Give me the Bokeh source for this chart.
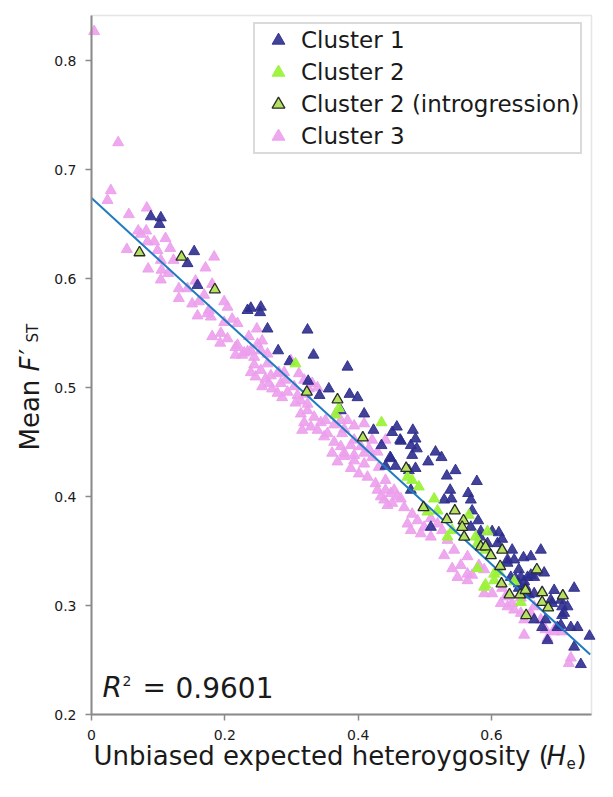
import math
from bokeh.plotting import figure
from bokeh.models import (Label, Legend, LegendItem, FixedTicker, Range1d, LinearAxis,
                          BoxAnnotation, CustomJSTickFormatter)
from bokeh.embed import file_html
from bokeh.resources import INLINE

# ---------------- data ----------------
x_ticks = [0, 0.2, 0.4, 0.6]
x_tick_labels = ["0", "0.2", "0.4", "0.6"]
y_ticks = [0.2, 0.3, 0.4, 0.5, 0.6, 0.7, 0.8]
y_tick_labels = ["0.2", "0.3", "0.4", "0.5", "0.6", "0.7", "0.8"]
x_lim = (0.0, 0.75)
y_lim = (0.2, 0.8416)

fit_x = [0.0, 0.748]
fit_y = [0.674, 0.255]
r2_value = "0.9601"

c1_x = [0.089, 0.104, 0.102, 0.154, 0.144, 0.159, 0.234, 0.239, 0.254, 0.253, 0.264, 0.324,
        0.280, 0.333, 0.297, 0.384, 0.325, 0.356, 0.342, 0.387, 0.399, 0.374, 0.409, 0.423,
        0.451, 0.458, 0.435, 0.448, 0.463, 0.482, 0.464, 0.479, 0.486, 0.488, 0.481, 0.516,
        0.525, 0.505, 0.449, 0.441, 0.456, 0.476, 0.486, 0.479, 0.509, 0.533, 0.546, 0.578,
        0.565, 0.569, 0.538, 0.529, 0.540, 0.571, 0.580, 0.583, 0.601, 0.611, 0.616, 0.631,
        0.648, 0.634, 0.641, 0.644, 0.654, 0.624, 0.629, 0.641, 0.651, 0.656, 0.569, 0.584,
        0.609, 0.594, 0.624, 0.659, 0.674, 0.664, 0.679, 0.694, 0.714, 0.724, 0.709, 0.704,
        0.719, 0.729, 0.747, 0.724, 0.684, 0.664, 0.666, 0.659, 0.636, 0.649, 0.641, 0.664,
        0.689, 0.691, 0.704, 0.706, 0.706, 0.699, 0.681, 0.676, 0.734]
c1_y = [0.657, 0.656, 0.650, 0.625, 0.614, 0.594, 0.571, 0.573, 0.574, 0.569, 0.554, 0.553,
        0.534, 0.530, 0.524, 0.519, 0.506, 0.499, 0.493, 0.494, 0.491, 0.479, 0.476, 0.461,
        0.459, 0.464, 0.447, 0.436, 0.452, 0.461, 0.451, 0.447, 0.453, 0.444, 0.438, 0.441,
        0.436, 0.432, 0.435, 0.428, 0.428, 0.424, 0.426, 0.406, 0.372, 0.419, 0.424, 0.414,
        0.403, 0.397, 0.406, 0.397, 0.398, 0.387, 0.378, 0.363, 0.368, 0.367, 0.361, 0.351,
        0.344, 0.342, 0.333, 0.326, 0.326, 0.339, 0.326, 0.320, 0.317, 0.310, 0.372, 0.368,
        0.357, 0.357, 0.342, 0.345, 0.351, 0.326, 0.330, 0.314, 0.299, 0.316, 0.293, 0.282,
        0.280, 0.280, 0.272, 0.262, 0.268, 0.287, 0.331, 0.328, 0.325, 0.322, 0.316, 0.311,
        0.305, 0.302, 0.305, 0.299, 0.291, 0.280, 0.287, 0.280, 0.246]

c2_x = [0.306, 0.371, 0.366, 0.435, 0.474, 0.481, 0.491, 0.514, 0.504, 0.519, 0.566, 0.579,
        0.591, 0.594, 0.611, 0.604, 0.579, 0.589, 0.604, 0.634, 0.644, 0.541, 0.534, 0.576,
        0.591]
c2_y = [0.522, 0.481, 0.475, 0.468, 0.418, 0.415, 0.409, 0.398, 0.386, 0.387, 0.383, 0.357,
        0.351, 0.368, 0.331, 0.329, 0.334, 0.317, 0.323, 0.322, 0.303, 0.369, 0.363, 0.363,
        0.319]

c2i_x = [0.072, 0.135, 0.185, 0.323, 0.369, 0.407, 0.472, 0.498, 0.545, 0.558, 0.533, 0.556,
         0.559, 0.584, 0.591, 0.599, 0.616, 0.613, 0.615, 0.627, 0.643, 0.668, 0.676, 0.676,
         0.685, 0.707, 0.652, 0.651]
c2i_y = [0.624, 0.620, 0.590, 0.496, 0.489, 0.454, 0.426, 0.390, 0.387, 0.378, 0.379, 0.372,
         0.363, 0.354, 0.354, 0.346, 0.351, 0.336, 0.320, 0.310, 0.310, 0.333, 0.312, 0.303,
         0.298, 0.309, 0.291, 0.314]

c3_x = [0.004, 0.040, 0.029, 0.024, 0.056, 0.083, 0.070, 0.082, 0.074, 0.111, 0.094, 0.084,
        0.053, 0.118, 0.099, 0.184, 0.085, 0.104, 0.105, 0.104, 0.115, 0.123, 0.171, 0.156,
        0.181, 0.131, 0.144, 0.131, 0.151, 0.161, 0.169, 0.159, 0.174, 0.179, 0.199, 0.204,
        0.199, 0.211, 0.219, 0.181, 0.193, 0.204, 0.219, 0.216, 0.229, 0.239, 0.249, 0.256,
        0.176, 0.194, 0.236, 0.216, 0.226, 0.234, 0.244, 0.254, 0.264, 0.281, 0.299, 0.244,
        0.254, 0.264, 0.239, 0.246, 0.261, 0.269, 0.279, 0.289, 0.266, 0.256, 0.271, 0.284,
        0.291, 0.304, 0.294, 0.279, 0.286, 0.309, 0.314, 0.306, 0.321, 0.326, 0.331, 0.339,
        0.319, 0.311, 0.314, 0.324, 0.334, 0.344, 0.319, 0.329, 0.316, 0.339, 0.351, 0.354,
        0.364, 0.374, 0.384, 0.394, 0.389, 0.404, 0.374, 0.364, 0.349, 0.361, 0.379, 0.394,
        0.409, 0.421, 0.416, 0.324, 0.376, 0.379, 0.394, 0.409, 0.401, 0.414, 0.426, 0.429,
        0.441, 0.449, 0.459, 0.439, 0.469, 0.481, 0.474, 0.379, 0.409, 0.369, 0.389, 0.429,
        0.441, 0.421, 0.431, 0.441, 0.434, 0.454, 0.464, 0.451, 0.444, 0.489, 0.499, 0.479,
        0.494, 0.509, 0.509, 0.519, 0.526, 0.534, 0.529, 0.544, 0.541, 0.554, 0.564, 0.564,
        0.571, 0.581, 0.589, 0.616, 0.601, 0.621, 0.614, 0.631, 0.644, 0.589, 0.564, 0.549,
        0.624, 0.644, 0.664, 0.674, 0.649, 0.684, 0.696, 0.719, 0.634, 0.659, 0.681, 0.694,
        0.649, 0.716, 0.706, 0.366, 0.394, 0.248]
c3_y = [0.827, 0.725, 0.681, 0.672, 0.659, 0.665, 0.644, 0.644, 0.641, 0.637, 0.634, 0.634,
        0.627, 0.628, 0.626, 0.620, 0.609, 0.617, 0.608, 0.599, 0.605, 0.617, 0.610, 0.598,
        0.595, 0.591, 0.591, 0.582, 0.577, 0.579, 0.585, 0.566, 0.568, 0.565, 0.579, 0.574,
        0.560, 0.563, 0.559, 0.547, 0.541, 0.545, 0.539, 0.530, 0.532, 0.534, 0.540, 0.543,
        0.571, 0.550, 0.547, 0.537, 0.530, 0.533, 0.528, 0.534, 0.531, 0.514, 0.525, 0.521,
        0.516, 0.522, 0.514, 0.510, 0.508, 0.511, 0.513, 0.514, 0.504, 0.501, 0.499, 0.504,
        0.507, 0.501, 0.496, 0.495, 0.491, 0.493, 0.488, 0.486, 0.494, 0.499, 0.504, 0.500,
        0.507, 0.513, 0.476, 0.479, 0.473, 0.468, 0.468, 0.464, 0.461, 0.461, 0.470, 0.458,
        0.466, 0.470, 0.470, 0.452, 0.447, 0.446, 0.446, 0.450, 0.455, 0.440, 0.440, 0.438,
        0.440, 0.452, 0.444, 0.485, 0.458, 0.437, 0.433, 0.430, 0.421, 0.418, 0.412, 0.406,
        0.415, 0.403, 0.400, 0.397, 0.390, 0.384, 0.375, 0.462, 0.467, 0.432, 0.426, 0.441,
        0.452, 0.436, 0.427, 0.406, 0.400, 0.406, 0.398, 0.394, 0.392, 0.378, 0.372, 0.369,
        0.366, 0.363, 0.380, 0.375, 0.369, 0.360, 0.346, 0.351, 0.334, 0.337, 0.345, 0.329,
        0.328, 0.337, 0.333, 0.316, 0.311, 0.308, 0.302, 0.302, 0.307, 0.311, 0.323, 0.326,
        0.299, 0.293, 0.299, 0.287, 0.273, 0.270, 0.280, 0.252, 0.296, 0.293, 0.278, 0.276,
        0.287, 0.247, 0.276, 0.476, 0.465, 0.554]

legend_labels = ["Cluster 1", "Cluster 2", "Cluster 2 (introgression)", "Cluster 3"]

# ---------------- styles ----------------
C1 = "#2E2E8E"
C2 = "#9CF23A"
C2I_FILL = "#B4E25E"
C2I_LINE = "#2A2A2A"
C3 = "#EC9FEC"
FIT = "#1E7BC0"
AXIS = "#8A8A8A"
TXT = "#1A1A1A"
FONT = "DejaVu Sans"

W, H = 613, 797
BOX_L, BOX_R, BOX_T, BOX_B = 91, 591, 15, 714   # plot box in canvas pixels
sx = (BOX_R - BOX_L) / (x_lim[1] - x_lim[0])
sy = (BOX_B - BOX_T) / (y_lim[1] - y_lim[0])
xr = Range1d(x_lim[0] - BOX_L / sx, x_lim[1] + (W - BOX_R) / sx)
yr = Range1d(y_lim[0] - (H - BOX_B) / sy, y_lim[1] + BOX_T / sy)

p = figure(width=W, height=H, output_backend="svg", toolbar_location=None,
           x_range=xr, y_range=yr, x_axis_location=None, y_axis_location=None,
           min_border=0, min_border_left=0, min_border_right=0,
           min_border_top=0, min_border_bottom=0)
p.grid.visible = False
p.background_fill_color = "white"
p.border_fill_color = "white"
p.outline_line_color = None

fmt_code = """
let k = -1;
for (let j = 0; j < tv.length; j++) { if (Math.abs(tv[j] - tick) < 1e-9) { k = j; } }
return k >= 0 ? tl[k] : tick.toFixed(1);
"""
xaxis = LinearAxis(fixed_location=y_lim[0], bounds=x_lim,
                   ticker=FixedTicker(ticks=x_ticks),
                   formatter=CustomJSTickFormatter(args=dict(tv=x_ticks, tl=x_tick_labels),
                                                   code=fmt_code))
yaxis = LinearAxis(fixed_location=x_lim[0], bounds=y_lim,
                   ticker=FixedTicker(ticks=y_ticks),
                   formatter=CustomJSTickFormatter(args=dict(tv=y_ticks, tl=y_tick_labels),
                                                   code=fmt_code))
for ax in (xaxis, yaxis):
    ax.axis_line_color = AXIS
    ax.axis_line_width = 2
    ax.major_tick_line_color = AXIS
    ax.major_tick_line_width = 1.5
    ax.major_tick_in = 0
    ax.major_tick_out = 6
    ax.minor_tick_line_color = None
    ax.major_label_text_font = FONT
    ax.major_label_text_font_size = "14px"
    ax.major_label_text_color = TXT
    ax.major_label_standoff = 9
p.add_layout(xaxis, "below")
p.add_layout(yaxis, "left")

# plot box outline
p.add_layout(BoxAnnotation(left=x_lim[0], right=x_lim[1], bottom=y_lim[0], top=y_lim[1],
                           fill_color=None, fill_alpha=0, line_color="#A8A8A8",
                           line_width=1.5, level="underlay"))

r3 = p.scatter(c3_x, c3_y, marker="triangle", size=11, fill_color=C3, line_color=C3,
               fill_alpha=0.9, line_alpha=0.9)
r1 = p.scatter(c1_x, c1_y, marker="triangle", size=11, fill_color=C1, line_color=C1,
               fill_alpha=0.9, line_alpha=0.9)
r2 = p.scatter(c2_x, c2_y, marker="triangle", size=11, fill_color=C2, line_color=C2,
               fill_alpha=0.95, line_alpha=0.95)
p.line(fit_x, fit_y, line_color=FIT, line_width=2)
r2i = p.scatter(c2i_x, c2i_y, marker="triangle", size=11, fill_color=C2I_FILL,
                line_color=C2I_LINE, line_width=1.3)

legend = Legend(items=[LegendItem(label=legend_labels[0], renderers=[r1]),
                       LegendItem(label=legend_labels[1], renderers=[r2]),
                       LegendItem(label=legend_labels[2], renderers=[r2i]),
                       LegendItem(label=legend_labels[3], renderers=[r3])],
                location=(253, H - 154), margin=0, padding=0, spacing=0,
                glyph_height=32, glyph_width=46, label_height=32, label_standoff=0,
                label_text_font=FONT, label_text_font_size="23px", label_text_color=TXT,
                border_line_color="#B5B5B5", border_line_width=2,
                background_fill_color="white", background_fill_alpha=1.0)
p.add_layout(legend)

# Bokeh places an "alphabetic" baseline about 0.37 em lower than wanted here,
# so each label is lifted by that amount.
def lab(text, px, py, size_px, style="normal", angle=0.0):
    lift = 0.37 * size_px
    if angle:
        px_, py_ = px - lift, py
    else:
        px_, py_ = px, py - lift
    p.add_layout(Label(text=text, x=px_, y=H - py_, x_units="screen", y_units="screen",
                       text_font=FONT, text_font_size=f"{size_px}px", text_font_style=style,
                       text_color=TXT, text_align="left", text_baseline="alphabetic",
                       angle=angle))


# R^2 annotation
lab("R", 102, 697, 28, "italic")
lab("2", 122, 686, 14)
lab("=", 142, 697, 28)
lab(r2_value, 175, 697, 28)

# x axis title: Unbiased expected heteroygosity (He)
lab("Unbiased expected heteroygosity (", 93, 765, 26)
lab("H", 546, 765, 26, "italic")
lab("e", 566, 768, 15)
lab(")", 576, 765, 26)

# y axis title: Mean F'ST (rotated, reading upwards)
ang = math.pi / 2
lab("Mean ", 39, 450, 26, angle=ang)
lab("F", 39, 371, 26, "italic", angle=ang)
lab("\u2032", 39, 354, 26, angle=ang)
lab("ST", 38, 342, 15, angle=ang)

open("out.html", "w").write(file_html(p, INLINE))
